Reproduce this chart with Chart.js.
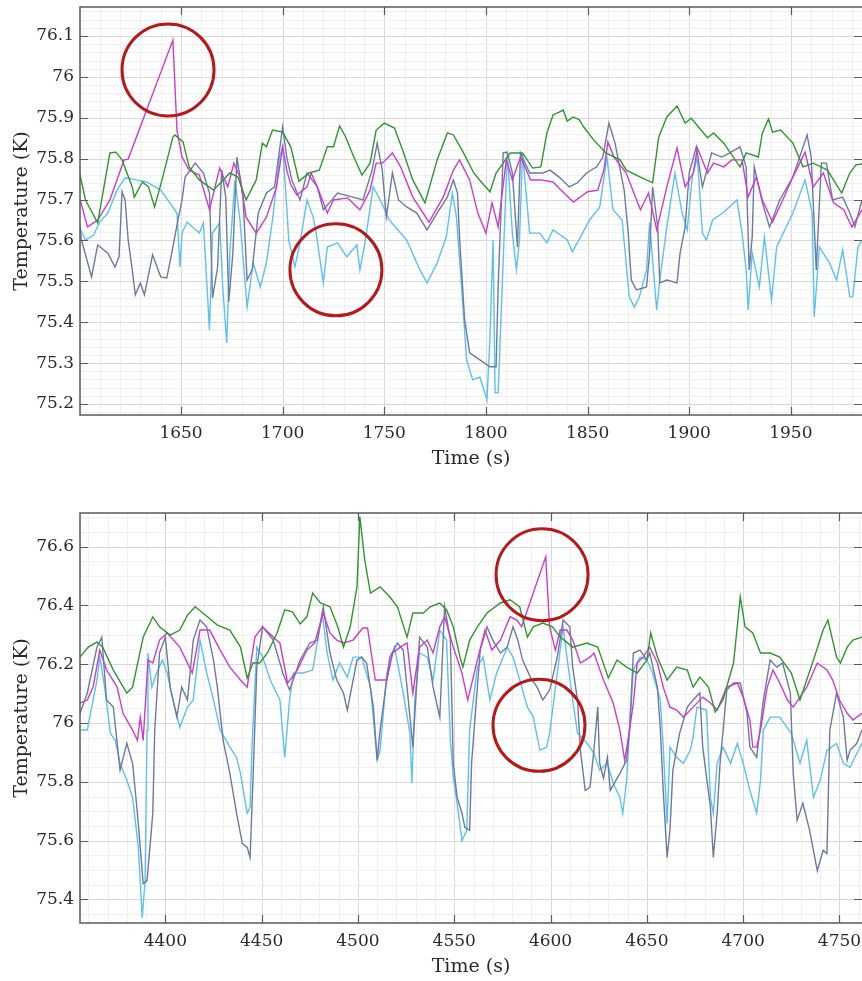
<!DOCTYPE html>
<html lang="en">
<head>
<meta charset="UTF-8">
<title>Temperature traces</title>
<script src="https://cdn.jsdelivr.net/npm/chart.js@4"></script>
<style>
  html, body { margin: 0; padding: 0; background: #fff; overflow: hidden; }
  .panel { position: absolute; left: 0; width: 862px; }
  #p1 { top: 0; height: 473px; }
  #p2 { top: 473px; height: 508px; }
</style>
</head>
<body>
<div class="panel" id="p1"><canvas id="c1"></canvas></div>
<div class="panel" id="p2"><canvas id="c2"></canvas></div>

<script>
// ---- upper window, time (s) / temperature (K) pairs ----
const topGreen = [[1600,75.767],[1603,75.699],[1609,75.643],[1615,75.814],[1618,75.816],[1621,75.797],[1626,75.731],[1627,75.706],[1631,75.743],[1634,75.731],[1637,75.682],
  [1641,75.755],[1646,75.853],[1647,75.858],[1651,75.841],[1654,75.780],[1659,75.748],[1666,75.723],[1674,75.765],[1678,75.755],[1682,75.699],[1687,75.748],[1690,75.838],[1692,75.829],[1695,75.870],[1700,75.865],
  [1704,75.829],[1708,75.745],[1713,75.765],[1718,75.772],[1722,75.829],[1725,75.829],[1728,75.880],[1731,75.853],[1735,75.804],[1739,75.760],[1743,75.789],[1746,75.870],[1750,75.887],[1755,75.875],[1759,75.821],
  [1764,75.748],[1770,75.692],[1776,75.797],[1781,75.863],[1784,75.858],[1789,75.814],[1794,75.765],[1798,75.741],[1802,75.719],[1805,75.765],[1812,75.814],[1818,75.814],[1823,75.777],[1827,75.780],
  [1830,75.863],[1833,75.907],[1836,75.914],[1838,75.919],[1840,75.892],[1843,75.902],[1846,75.895],[1848,75.878],[1853,75.846],[1859,75.814],[1866,75.797],[1869,75.772],[1876,75.755],[1882,75.741],[1885,75.853],[1889,75.902],
  [1894,75.929],[1898,75.887],[1901,75.899],[1909,75.851],[1912,75.863],[1917,75.838],[1925,75.780],[1928,75.814],[1934,75.804],[1936,75.863],[1939,75.897],[1941,75.865],[1945,75.870],[1951,75.838],[1956,75.780],[1961,75.789],[1968,75.772],[1975,75.716],[1979,75.765],[1982,75.785],[1985,75.787]];

const topMagenta = [[1600,75.706],[1604,75.633],[1609,75.650],[1615,75.699],[1619,75.755],[1622,75.797],[1624,75.799],[1646,76.090],[1648,75.870],[1650.5,75.804],[1654,75.772],[1659,75.760],[1664,75.675],[1669,75.777],[1673,75.731],[1676,75.789],[1679,75.755],[1682,75.657],[1687,75.618],[1692,75.657],[1697,75.731],
  [1700,75.829],[1702,75.772],[1704,75.736],[1707,75.711],[1712,75.731],[1714,75.765],[1717,75.731],[1722,75.667],[1725,75.699],[1732,75.704],[1738,75.675],[1743,75.723],[1746,75.789],[1749,75.789],[1754,75.814],[1758,75.780],[1764,75.706],[1772,75.645],[1779,75.706],[1784,75.772],[1787,75.797],[1792,75.748],[1796,75.667],
  [1800,75.618],[1803,75.692],[1806,75.633],[1810,75.797],[1813,75.748],[1817,75.804],[1822,75.748],[1827,75.748],[1833,75.743],[1837,75.723],[1843,75.694],[1850,75.719],[1855,75.723],[1858,75.772],[1860,75.841],[1863,75.804],[1869,75.765],[1876,75.675],[1880,75.716],[1884,75.626],[1889,75.731],[1894,75.826],[1898,75.731],
  [1902,75.765],[1904,75.826],[1909,75.765],[1912,75.789],[1917,75.780],[1921,75.797],[1926,75.797],[1929,75.706],[1933,75.755],[1936,75.699],[1941,75.645],[1946,75.699],[1951,75.755],[1957,75.816],[1961,75.731],[1966,75.765],[1971,75.692],[1976,75.675],[1980,75.633],[1985,75.675]];

const topSlate = [[1600,75.643],[1601,75.601],[1604,75.547],[1606,75.511],[1609,75.589],[1614,75.569],[1617.5,75.535],[1619.5,75.560],[1621,75.719],[1622.5,75.699],[1624,75.601],[1626,75.528],[1627.5,75.467],[1630,75.496],[1632,75.467],[1636,75.565],[1640,75.511],[1643,75.508],[1646,75.584],[1648.5,75.650],
  [1650.5,75.699],[1652,75.755],[1657,75.789],[1661,75.765],[1664,75.716],[1665.5,75.459],[1668,75.535],[1670,75.772],[1672,75.706],[1673.5,75.450],[1675.5,75.569],[1677.5,75.804],[1680.5,75.706],[1682.5,75.503],[1685,75.528],[1688,75.667],[1692,75.716],[1696,75.731],
  [1700,75.878],[1702,75.804],[1704.5,75.748],[1708.5,75.699],[1712,75.765],[1717,75.731],[1720,75.675],[1723,75.692],[1727,75.716],[1734.5,75.706],[1739.5,75.699],[1744,75.772],[1746.5,75.838],[1749,75.772],[1751,75.657],[1754,75.765],[1757,75.699],[1761,75.682],[1766,75.667],[1771,75.626],[1776,75.667],[1781,75.706],[1784,75.748],[1786,75.716],
  [1787,75.609],[1789.5,75.406],[1792,75.325],[1797,75.308],[1802,75.291],[1805,75.291],[1806,75.486],[1807,75.618],[1808.5,75.814],[1810.5,75.816],[1813,75.765],[1815.5,75.584],[1817,75.814],[1821.5,75.765],[1828,75.765],[1831.5,75.772],[1836,75.755],[1841,75.731],[1845,75.741],[1849.5,75.765],
  [1854.5,75.780],[1857.5,75.804],[1860.5,75.887],[1863.5,75.838],[1868,75.723],[1870,75.618],[1871.5,75.503],[1874,75.479],[1879,75.486],[1880.5,75.569],[1882,75.731],[1884.5,75.633],[1885.5,75.496],[1889,75.503],[1894,75.496],[1895.5,75.569],[1898,75.633],
  [1900,75.765],[1903.5,75.829],[1906.5,75.731],[1911,75.814],[1916,75.804],[1920,75.814],[1925,75.829],[1928,75.780],[1929.5,75.528],[1931,75.609],[1932,75.780],[1936,75.692],[1939.5,75.633],[1944.5,75.699],[1951,75.755],[1958,75.858],[1960,75.804],[1962.5,75.528],[1965,75.789],[1967.5,75.789],[1970.5,75.699],[1975.5,75.706],[1979,75.667],[1981.5,75.633],[1985,75.699]];

const topBlue = [[1600,75.633],[1603,75.601],[1607,75.613],[1610,75.645],[1614,75.667],[1618.5,75.723],[1622.5,75.753],[1628,75.748],[1633,75.743],[1640,75.723],[1644.5,75.692],[1648,75.667],[1649.5,75.535],[1650.5,75.618],[1653,75.645],[1659,75.618],[1661,75.643],[1664,75.381],[1665.5,75.618],[1669,75.643],[1670.5,75.486],[1672.5,75.349],[1674,75.569],[1676.5,75.748],[1679,75.650],[1682.5,75.437],[1685.5,75.545],[1689,75.486],[1692,75.545],[1695,75.650],[1698.5,75.804],
  [1700,75.829],[1702,75.682],[1703,75.601],[1706,75.535],[1708.5,75.594],[1712,75.699],[1715,75.657],[1716.5,75.618],[1720,75.496],[1722,75.584],[1727,75.594],[1731.5,75.560],[1736.5,75.589],[1738,75.528],[1740.5,75.594],[1744.5,75.731],[1748,75.699],[1752.5,75.650],[1761,75.601],[1767.5,75.528],[1771,75.496],[1776,75.545],[1780.5,75.609],[1783.5,75.716],[1785.5,75.657],[1788,75.486],[1790.5,75.308],[1793.5,75.259],[1797,75.266],
  [1800.5,75.210],[1802,75.364],[1803.5,75.601],[1804.5,75.227],[1806,75.227],[1808,75.486],[1810.5,75.814],[1813,75.618],[1815,75.528],[1816.5,75.601],[1818,75.814],[1821.5,75.618],[1826.5,75.618],[1830,75.594],[1833,75.626],[1840,75.601],[1842.5,75.572],[1847.5,75.618],[1851,75.650],[1856,75.682],[1859.5,75.804],[1862.5,75.675],[1867,75.650],[1870.5,75.462],[1873,75.437],[1875.5,75.462],[1879,75.528],[1880.5,75.643],[1884,75.430],[1885.5,75.503],[1889,75.633],[1893,75.765],[1896.5,75.667],[1899,75.626],
  [1901.5,75.755],[1904,75.804],[1906.5,75.618],[1908.5,75.601],[1911.5,75.650],[1916.5,75.667],[1923.5,75.699],[1926,75.618],[1928,75.528],[1929,75.430],[1931,75.569],[1934.5,75.486],[1937,75.609],[1940.5,75.454],[1943,75.584],[1951,75.667],[1957,75.748],[1960.5,75.667],[1961.5,75.413],[1964,75.584],[1969,75.545],[1972.5,75.503],[1975.5,75.577],[1979,75.462],[1980.5,75.462],[1983,75.584],[1985,75.601]];

// ---- lower window ----
const botGreen = [[4355.7,76.224],[4360,76.258],[4364.5,76.275],[4367.5,76.258],[4373,76.180],[4380,76.102],[4383,76.122],[4388.5,76.292],[4393.5,76.361],[4397,76.327],[4402.5,76.299],[4407.5,76.316],[4411.5,76.367],[4415.5,76.395],[4419.5,76.374],[4427,76.333],[4433.5,76.316],[4439,76.258],[4442.5,76.153],[4445.5,76.204],[4449,76.204],
  [4453,76.238],[4458,76.306],[4462,76.385],[4466,76.378],[4470,76.337],[4473.5,76.361],[4476.5,76.442],[4480.5,76.408],[4485.5,76.395],[4489.5,76.327],[4492.5,76.258],[4496,76.327],[4499.5,76.463],[4501,76.702],[4503.5,76.555],[4506.5,76.442],[4511.5,76.463],[4516.5,76.429],[4520.5,76.395],[4525.5,76.292],[4528.5,76.374],[4534,76.374],[4537.5,76.395],[4542.5,76.408],[4546,76.385],[4549.5,76.327],
  [4553,76.224],[4554.5,76.190],[4558,76.282],[4562,76.327],[4567,76.374],[4574,76.408],[4579,76.419],[4584,76.395],[4588,76.292],[4591,76.327],[4596,76.340],[4601,76.327],[4605,76.292],[4611.5,76.258],[4619,76.272],[4624.5,76.258],[4630,76.153],[4634.5,76.214],[4639.5,76.190],[4645,76.170],[4650,76.214],[4652,76.306],[4655.5,76.224],
  [4660.5,76.146],[4665.5,76.190],[4671,76.180],[4674,76.122],[4677.5,76.156],[4682,76.122],[4685.5,76.037],[4689.5,76.078],[4695,76.204],[4698.5,76.429],[4701,76.327],[4705,76.306],[4709,76.238],[4714,76.238],[4719,76.224],[4725,76.170],[4729.5,76.078],[4736.5,76.214],[4741.5,76.316],[4744,76.350],[4748.5,76.224],[4750.5,76.204],[4754,76.258],[4757,76.282],[4761.7,76.292]];

const botMagenta = [[4355.7,76.068],[4359.5,76.078],[4362.5,76.122],[4366,76.248],[4369.5,76.180],[4375,76.122],[4378,76.033],[4383,75.976],[4385.5,75.941],[4387,76.020],[4388.5,75.941],[4391,76.214],[4393.5,76.204],[4397,76.282],[4401,76.306],[4407.5,76.258],[4414,76.170],[4418,76.316],[4423,76.316],[4428.5,76.248],[4433.5,76.190],[4439,76.146],[4442.5,76.122],[4446.5,76.292],[4450.5,76.327],
  [4456,76.292],[4459.5,76.272],[4463.5,76.136],[4468.5,76.180],[4473.5,76.248],[4477.5,76.272],[4482,76.374],[4485.5,76.306],[4489,76.282],[4492.5,76.272],[4497.5,76.282],[4502.5,76.323],[4505,76.323],[4509,76.146],[4515,76.146],[4518,76.238],[4522,76.258],[4525.5,76.272],[4528.5,76.102],[4532,76.258],[4536,76.282],[4539,76.238],[4542.5,76.327],[4545,76.361],[4549.5,76.258],
  [4554,76.170],[4557,76.078],[4562,76.214],[4566,76.316],[4569.5,76.248],[4574,76.282],[4579,76.361],[4582.5,76.350],[4585,76.327],[4597.5,76.565],[4599.5,76.327],[4602.5,76.248],[4605,76.316],[4608.5,76.316],[4611.5,76.282],[4615.5,76.204],[4620.5,76.224],[4622.5,76.238],[4627.5,76.146],[4632.5,76.068],[4636,75.976],[4638.5,75.873],[4641,75.976],[4643,76.068],[4645,76.204],[4648,76.224],
  [4651.5,76.258],[4655.5,76.204],[4658.5,76.122],[4662,76.054],[4665.5,76.044],[4669,76.020],[4674,76.054],[4679,76.088],[4683,76.068],[4686.5,76.044],[4691.5,76.122],[4697,76.136],[4700,76.088],[4703.5,76.010],[4705,75.918],[4707,75.918],[4709,75.976],[4712.5,76.122],[4715.5,76.180],[4719,76.136],[4723,76.078],[4726,76.054],[4729.5,76.088],[4733,76.122],[4738.5,76.204],[4743.5,76.180],[4746.5,76.146],[4750,76.078],[4754,76.033],[4757,76.010],[4761.7,76.033]];

const botSlate = [[4355.7,76.033],[4359.5,76.102],[4364.5,76.258],[4367,76.292],[4369.5,76.078],[4373,76.054],[4376.5,75.839],[4380,75.931],[4383,75.863],[4385.5,75.693],[4387,75.577],[4388.5,75.454],[4390.5,75.464],[4392,75.577],[4393.5,75.693],[4394.5,75.976],[4397,76.238],[4400,76.292],[4402.5,76.122],[4406,76.020],[4408.5,76.122],[4411.5,76.078],[4414.5,76.282],[4418,76.350],[4421.5,76.327],[4425,76.214],[4427,76.122],
  [4430,75.941],[4433.5,75.829],[4437,75.693],[4440,75.590],[4442.5,75.577],[4444,75.543],[4445.5,75.805],[4447.5,76.190],[4450.5,76.327],[4456,76.282],[4461,76.170],[4464.5,76.112],[4470,76.214],[4475,76.272],[4479,76.282],[4482,76.395],[4485.5,76.238],[4489,76.146],[4492.5,76.102],[4494.5,76.044],[4499.5,76.214],[4502,76.224],[4504.5,76.204],[4508,76.054],[4510,75.873],[4511.5,75.976],
  [4516.5,76.224],[4520.5,76.272],[4523.5,76.248],[4525.5,76.122],[4528.5,75.918],[4532,76.292],[4536,76.258],[4539,76.122],[4542.5,76.020],[4545,76.395],[4548,76.282],[4549.5,75.863],[4551.5,75.747],[4554,75.693],[4555.5,75.645],[4558,75.635],[4559,75.863],[4562,76.122],[4563.5,76.248],[4567,76.327],[4570,76.282],[4574,76.238],[4577.5,76.258],[4580.5,76.327],[4583,76.282],[4585.5,76.214],
  [4589.5,76.156],[4593,76.122],[4596,76.078],[4599.5,76.112],[4603.5,76.224],[4606.5,76.350],[4610,76.327],[4611.5,76.190],[4614,76.078],[4615.5,75.907],[4618,75.771],[4620.5,75.781],[4622.5,75.907],[4624.5,76.054],[4625.5,75.863],[4627.5,75.812],[4629.5,75.883],[4631,75.771],[4636,75.829],[4639.5,75.873],[4641,75.976],[4643,76.238],[4646.5,76.248],[4650,76.214],[4651.5,76.238],
  [4655.5,76.122],[4657,75.976],[4658.5,75.771],[4660.5,75.543],[4662,75.635],[4663.5,75.839],[4667,75.965],[4671,76.054],[4674,76.078],[4677.5,76.102],[4679,75.918],[4683,75.713],[4684.5,75.543],[4686.5,75.693],[4688,75.863],[4691.5,76.112],[4695,76.136],[4698.5,76.136],[4702,76.033],[4703.5,75.918],[4707,75.883],[4710.5,76.078],[4714,76.214],[4717.5,76.190],[4720.5,76.204],
  [4724.5,76.102],[4726,75.829],[4728,75.669],[4731,75.727],[4734.5,75.635],[4738.5,75.498],[4741.5,75.567],[4743.5,75.556],[4745,75.976],[4748.5,76.102],[4752,76.020],[4754,75.873],[4755.5,75.907],[4759,75.931],[4761.7,75.976]];

const botBlue = [[4355.7,75.976],[4359.5,75.976],[4364.5,76.146],[4366,76.224],[4368.5,76.122],[4371.5,75.965],[4374,75.941],[4376.5,75.863],[4380,75.805],[4383,75.747],[4386,75.577],[4388,75.338],[4389.5,75.464],[4390.5,75.976],[4391,76.238],[4393,76.122],[4395.5,76.170],[4398.5,76.214],[4401,76.170],[4404,76.078],[4407.5,75.986],[4411.5,76.054],[4414.5,76.078],[4418,76.282],[4421.5,76.170],[4425,76.078],[4428.5,75.976],
  [4433.5,75.918],[4437,75.883],[4439,75.829],[4442.5,75.693],[4444,75.713],[4445,75.918],[4447.5,76.258],[4450.5,76.224],[4454.5,76.146],[4459.5,76.078],[4462,75.883],[4464.5,76.078],[4466.5,76.170],[4471.5,76.170],[4476.5,76.180],[4481.5,76.374],[4484,76.238],[4487,76.146],[4490.5,76.204],[4494.5,76.156],[4497.5,76.224],[4502,76.224],[4506.5,76.122],[4510,75.873],[4511.5,75.907],[4515,76.170],[4519,76.258],
  [4523.5,76.102],[4527,75.965],[4528,75.795],[4529.5,76.078],[4532,76.238],[4536,76.224],[4539,76.146],[4542.5,76.316],[4546,76.282],[4548,75.941],[4549.5,75.815],[4551.5,75.727],[4554,75.600],[4556.5,75.635],[4558,75.976],[4562,76.190],[4565,76.224],[4568.5,76.078],[4572,76.170],[4577.5,76.258],[4580.5,76.224],[4584,76.146],[4588,76.054],[4591,76.020],[4594.5,75.907],[4598,75.918],[4599.5,75.965],
  [4603.5,76.170],[4606.5,76.327],[4608.5,76.224],[4611.5,76.078],[4614,75.965],[4619,75.931],[4622.5,75.897],[4625.5,75.839],[4629.5,75.863],[4632.5,75.795],[4636,75.747],[4637.5,75.693],[4639.5,75.805],[4641,75.976],[4643,76.180],[4646.5,76.224],[4650,76.214],[4653,76.170],[4657,76.078],[4658.5,75.918],[4660.5,75.658],[4662,75.918],[4665.5,75.883],[4669,75.863],[4672.5,75.907],[4674,75.952],
  [4676,76.054],[4681,76.044],[4683,75.747],[4684.5,75.693],[4686.5,75.863],[4689.5,75.918],[4693.5,75.863],[4697,75.931],[4700,75.863],[4703.5,75.771],[4707,75.693],[4709,75.805],[4710.5,75.976],[4714,76.020],[4719,76.020],[4725,75.965],[4729.5,75.863],[4733,75.941],[4736.5,75.747],[4740,75.805],[4743.5,75.907],[4748.5,75.931],[4752,75.863],[4755.5,75.849],[4759,75.897],[4761.7,75.931]];

// red rings marking the artefacts (centre time, centre temperature)
const topRings = [[1643.6, 76.017], [1726.2, 75.528]];
const botRings = [[4595.6, 76.504], [4594.0, 75.992]];

const topX = [1600.3, 1985], topY = [75.173, 76.171];
const botX = [4355.7, 4761.7], botY = [75.32, 76.714];
</script>

<script>
const GREEN = '#2f962f', MAGENTA = '#cc3ccc', SLATE = '#6c7a9f', BLUE = '#5cc1ee', RING = '#b41a1a';
const INK = '#2a2a2a';
const tickFont = { family: 'DejaVu Serif', size: 17 };
const titleFont = { family: 'DejaVu Serif', size: 19 };

function onStep(v, step) {
  return Math.abs(v / step - Math.round(v / step)) < 1e-6;
}

// keep chart.js from reserving label overhang space, the frame is fixed
function noOverhang(s) {
  s.paddingTop = 0; s.paddingBottom = 0; s.paddingLeft = 0; s.paddingRight = 0;
}

// light grid (major + minor), then frame with inward tick marks
const framePlugin = {
  id: 'frame',
  beforeDatasetsDraw(chart, args, o) {
    const { ctx, chartArea: a, scales: { x, y } } = chart;
    ctx.save();
    ctx.lineWidth = 1;
    for (let k = Math.ceil(x.min / o.xMinor); k * o.xMinor <= x.max; k++) {
      const v = k * o.xMinor;
      const px = Math.round(x.getPixelForValue(v)) + 0.5;
      ctx.strokeStyle = onStep(v, o.xMajor) ? '#d8d8d8' : '#f0f0f0';
      ctx.beginPath(); ctx.moveTo(px, a.top); ctx.lineTo(px, a.bottom); ctx.stroke();
    }
    for (let k = Math.ceil(y.min / o.yMinor - 1e-9); k * o.yMinor <= y.max; k++) {
      const v = k * o.yMinor;
      const py = Math.round(y.getPixelForValue(v)) + 0.5;
      ctx.strokeStyle = onStep(v, o.yMajor) ? '#d8d8d8' : '#f0f0f0';
      ctx.beginPath(); ctx.moveTo(a.left, py); ctx.lineTo(a.right, py); ctx.stroke();
    }
    ctx.restore();
  },
  afterDatasetsDraw(chart) {
    const { ctx, chartArea: a, scales: { x, y } } = chart;
    ctx.save();
    ctx.strokeStyle = '#5a5a5a';
    ctx.lineWidth = 1.5;
    ctx.beginPath();
    ctx.moveTo(a.right, a.top); ctx.lineTo(a.left, a.top);
    ctx.lineTo(a.left, a.bottom); ctx.lineTo(a.right, a.bottom);
    ctx.stroke();
    ctx.lineWidth = 1.2;
    const tl = 8;
    ctx.beginPath();
    x.ticks.forEach(t => {
      const px = Math.round(x.getPixelForValue(t.value)) + 0.5;
      ctx.moveTo(px, a.bottom); ctx.lineTo(px, a.bottom - tl);
      ctx.moveTo(px, a.top); ctx.lineTo(px, a.top + tl);
    });
    y.ticks.forEach(t => {
      const py = Math.round(y.getPixelForValue(t.value)) + 0.5;
      ctx.moveTo(a.left, py); ctx.lineTo(a.left + tl, py);
      ctx.moveTo(a.right, py); ctx.lineTo(a.right - tl, py);
    });
    ctx.stroke();
    ctx.restore();
  }
};

function toPts(pairs) {
  return pairs.map(p => ({ x: p[0], y: p[1] }));
}

function line(pairs, color) {
  return {
    data: toPts(pairs), showLine: true, borderColor: color, borderWidth: 1.4,
    pointRadius: 0, tension: 0, fill: false
  };
}

function makePanel(canvasId, series, rings, xr, yr, yMajor, yMinor, padTop) {
  const datasets = [{
    data: toPts(rings), showLine: false, pointRadius: 46, pointStyle: 'circle',
    pointBorderWidth: 3, pointBorderColor: RING, pointBackgroundColor: 'rgba(0,0,0,0)', clip: false
  }].concat(series.map(s => line(s[0], s[1])));

  new Chart(document.getElementById(canvasId), {
    type: 'scatter',
    data: { datasets: datasets },
    plugins: [framePlugin],
    options: {
      responsive: true,
      maintainAspectRatio: false,
      animation: false,
      events: [],
      layout: { autoPadding: false, padding: { top: padTop, right: 0, left: 0, bottom: 0 } },
      plugins: {
        legend: { display: false },
        tooltip: { enabled: false },
        frame: { xMajor: 50, xMinor: 10, yMajor: yMajor, yMinor: yMinor }
      },
      scales: {
        x: {
          type: 'linear', min: xr[0], max: xr[1],
          grid: { display: false, drawTicks: false },
          border: { display: false },
          ticks: { stepSize: 50, includeBounds: false, maxRotation: 0, autoSkip: false,
                   font: tickFont, color: INK, padding: 8, callback: v => String(v) },
          title: { display: true, text: 'Time (s)', font: titleFont, color: INK, padding: { top: 0, bottom: 3 } },
          afterFit(s) { s.height = 58; noOverhang(s); }
        },
        y: {
          type: 'linear', min: yr[0], max: yr[1],
          grid: { display: false, drawTicks: false },
          border: { display: false },
          ticks: { stepSize: yMajor, includeBounds: false, autoSkip: false,
                   font: tickFont, color: INK, padding: 6, callback: v => String(+v.toFixed(1)) },
          title: { display: true, text: 'Temperature (K)', font: titleFont, color: INK, padding: { top: 11, bottom: 0 } },
          afterFit(s) { s.width = 80; noOverhang(s); }
        }
      }
    }
  });
}

makePanel('c1',
  [[topGreen, GREEN], [topMagenta, MAGENTA], [topSlate, SLATE], [topBlue, BLUE]],
  topRings, topX, topY, 0.1, 0.02, 7);

makePanel('c2',
  [[botGreen, GREEN], [botMagenta, MAGENTA], [botSlate, SLATE], [botBlue, BLUE]],
  botRings, botX, botY, 0.2, 0.05, 40);
</script>
</body>
</html>
